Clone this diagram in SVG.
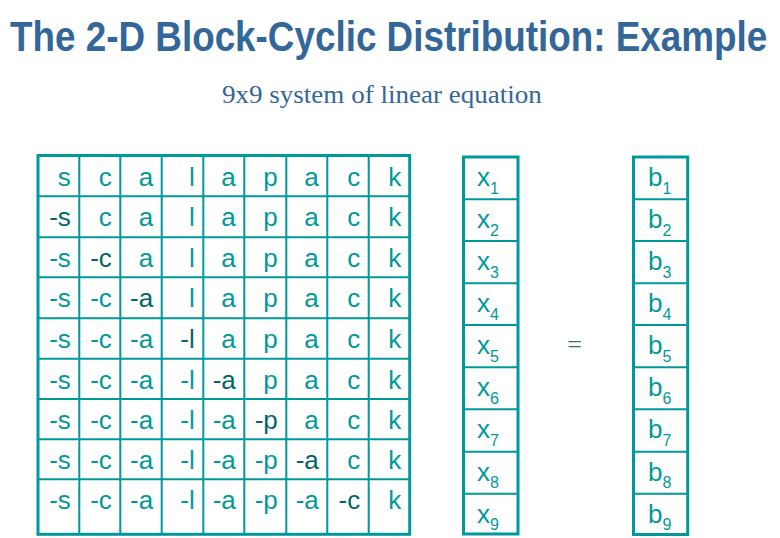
<svg xmlns="http://www.w3.org/2000/svg" width="780" height="538" viewBox="0 0 780 538">
<style>
.title{font-family:"Liberation Sans",Arial,sans-serif;font-weight:bold;font-size:42px;fill:#336699}
.sub{font-family:"Liberation Serif","Times New Roman",serif;font-size:26px;fill:#336699}
.eq{font-family:"Liberation Serif","Times New Roman",serif;font-size:26px;fill:#336699}
.outer{fill:none;stroke:#009999;stroke-width:3}
.inner{fill:none;stroke:#009999;stroke-width:2}
.m{font-family:"Liberation Sans",Arial,sans-serif;font-size:26px;fill:#009999;text-anchor:end}
.d{fill:#006666}
.v{font-family:"Liberation Sans",Arial,sans-serif;font-size:26px;fill:#009999}
.s{font-size:16px}
</style>
<rect width="780" height="538" fill="#ffffff"/>
<g id="title"><text class="title" transform="translate(10,51) scale(0.877,1)" x="0" y="0">The 2-D Block-Cyclic Distribution: Example</text></g>
<g id="subtitle"><text class="sub" transform="translate(222,103) scale(1.04,1)" x="0" y="0">9x9 system of linear equation</text></g>
<g id="matrix">
<path class="inner" d="M79.3 155.5V534.3M120.3 155.5V534.3M161.7 155.5V534.3M203.3 155.5V534.3M244.3 155.5V534.3M286.3 155.5V534.3M327.3 155.5V534.3M368.7 155.5V534.3M38 196.3H409.7M38 237.3H409.7M38 277.3H409.7M38 318.3H409.7M38 358.7H409.7M38 399H409.7M38 439.3H409.7M38 479.3H409.7"/>
<rect class="outer" x="38" y="155.5" width="371.7" height="378.8"/>
<g class="m">
<text x="70.8" y="185.5">s</text><text x="111.8" y="185.5">c</text><text x="153.2" y="185.5">a</text><text x="194.8" y="185.5">l</text><text x="235.8" y="185.5">a</text><text x="277.8" y="185.5">p</text><text x="318.8" y="185.5">a</text><text x="360.2" y="185.5">c</text><text x="401.2" y="185.5">k</text>
<text x="70.8" y="226.3" class="d">-s</text><text x="111.8" y="226.3">c</text><text x="153.2" y="226.3">a</text><text x="194.8" y="226.3">l</text><text x="235.8" y="226.3">a</text><text x="277.8" y="226.3">p</text><text x="318.8" y="226.3">a</text><text x="360.2" y="226.3">c</text><text x="401.2" y="226.3">k</text>
<text x="70.8" y="267.3">-s</text><text x="111.8" y="267.3" class="d">-c</text><text x="153.2" y="267.3">a</text><text x="194.8" y="267.3">l</text><text x="235.8" y="267.3">a</text><text x="277.8" y="267.3">p</text><text x="318.8" y="267.3">a</text><text x="360.2" y="267.3">c</text><text x="401.2" y="267.3">k</text>
<text x="70.8" y="307.3">-s</text><text x="111.8" y="307.3">-c</text><text x="153.2" y="307.3" class="d">-a</text><text x="194.8" y="307.3">l</text><text x="235.8" y="307.3">a</text><text x="277.8" y="307.3">p</text><text x="318.8" y="307.3">a</text><text x="360.2" y="307.3">c</text><text x="401.2" y="307.3">k</text>
<text x="70.8" y="348.3">-s</text><text x="111.8" y="348.3">-c</text><text x="153.2" y="348.3">-a</text><text x="194.8" y="348.3" class="d">-l</text><text x="235.8" y="348.3">a</text><text x="277.8" y="348.3">p</text><text x="318.8" y="348.3">a</text><text x="360.2" y="348.3">c</text><text x="401.2" y="348.3">k</text>
<text x="70.8" y="388.7">-s</text><text x="111.8" y="388.7">-c</text><text x="153.2" y="388.7">-a</text><text x="194.8" y="388.7">-l</text><text x="235.8" y="388.7" class="d">-a</text><text x="277.8" y="388.7">p</text><text x="318.8" y="388.7">a</text><text x="360.2" y="388.7">c</text><text x="401.2" y="388.7">k</text>
<text x="70.8" y="429">-s</text><text x="111.8" y="429">-c</text><text x="153.2" y="429">-a</text><text x="194.8" y="429">-l</text><text x="235.8" y="429">-a</text><text x="277.8" y="429" class="d">-p</text><text x="318.8" y="429">a</text><text x="360.2" y="429">c</text><text x="401.2" y="429">k</text>
<text x="70.8" y="469.3">-s</text><text x="111.8" y="469.3">-c</text><text x="153.2" y="469.3">-a</text><text x="194.8" y="469.3">-l</text><text x="235.8" y="469.3">-a</text><text x="277.8" y="469.3">-p</text><text x="318.8" y="469.3" class="d">-a</text><text x="360.2" y="469.3">c</text><text x="401.2" y="469.3">k</text>
<text x="70.8" y="509.3">-s</text><text x="111.8" y="509.3">-c</text><text x="153.2" y="509.3">-a</text><text x="194.8" y="509.3">-l</text><text x="235.8" y="509.3">-a</text><text x="277.8" y="509.3">-p</text><text x="318.8" y="509.3">-a</text><text x="360.2" y="509.3" class="d">-c</text><text x="401.2" y="509.3">k</text>
</g>
</g>
<g id="vector-x">
<path class="inner" d="M463.5 199.3H518M463.5 241H518M463.5 283.3H518M463.5 325H518M463.5 367.3H518M463.5 409.3H518M463.5 451.7H518M463.5 493.7H518"/>
<rect class="outer" x="463.5" y="157" width="54.5" height="377"/>
<g class="v">
<text x="477" y="186">x<tspan class="s" dy="7.5">1</tspan></text>
<text x="477" y="228.3">x<tspan class="s" dy="7.5">2</tspan></text>
<text x="477" y="270">x<tspan class="s" dy="7.5">3</tspan></text>
<text x="477" y="312.3">x<tspan class="s" dy="7.5">4</tspan></text>
<text x="477" y="354">x<tspan class="s" dy="7.5">5</tspan></text>
<text x="477" y="396.3">x<tspan class="s" dy="7.5">6</tspan></text>
<text x="477" y="438.3">x<tspan class="s" dy="7.5">7</tspan></text>
<text x="477" y="480.7">x<tspan class="s" dy="7.5">8</tspan></text>
<text x="477" y="522.7">x<tspan class="s" dy="7.5">9</tspan></text>
</g>
</g>
<g id="equals"><text class="eq" x="574.5" y="352.5" text-anchor="middle">=</text></g>
<g id="vector-b">
<path class="inner" d="M633.5 199.3H687.7M633.5 241H687.7M633.5 283.3H687.7M633.5 325H687.7M633.5 367.3H687.7M633.5 409.3H687.7M633.5 451.7H687.7M633.5 493.7H687.7"/>
<rect class="outer" x="633.5" y="157" width="54.2" height="377.5"/>
<g class="v">
<text x="648" y="186">b<tspan class="s" dy="7.5">1</tspan></text>
<text x="648" y="228.3">b<tspan class="s" dy="7.5">2</tspan></text>
<text x="648" y="270">b<tspan class="s" dy="7.5">3</tspan></text>
<text x="648" y="312.3">b<tspan class="s" dy="7.5">4</tspan></text>
<text x="648" y="354">b<tspan class="s" dy="7.5">5</tspan></text>
<text x="648" y="396.3">b<tspan class="s" dy="7.5">6</tspan></text>
<text x="648" y="438.3">b<tspan class="s" dy="7.5">7</tspan></text>
<text x="648" y="480.7">b<tspan class="s" dy="7.5">8</tspan></text>
<text x="648" y="522.7">b<tspan class="s" dy="7.5">9</tspan></text>
</g>
</g>
</svg>
